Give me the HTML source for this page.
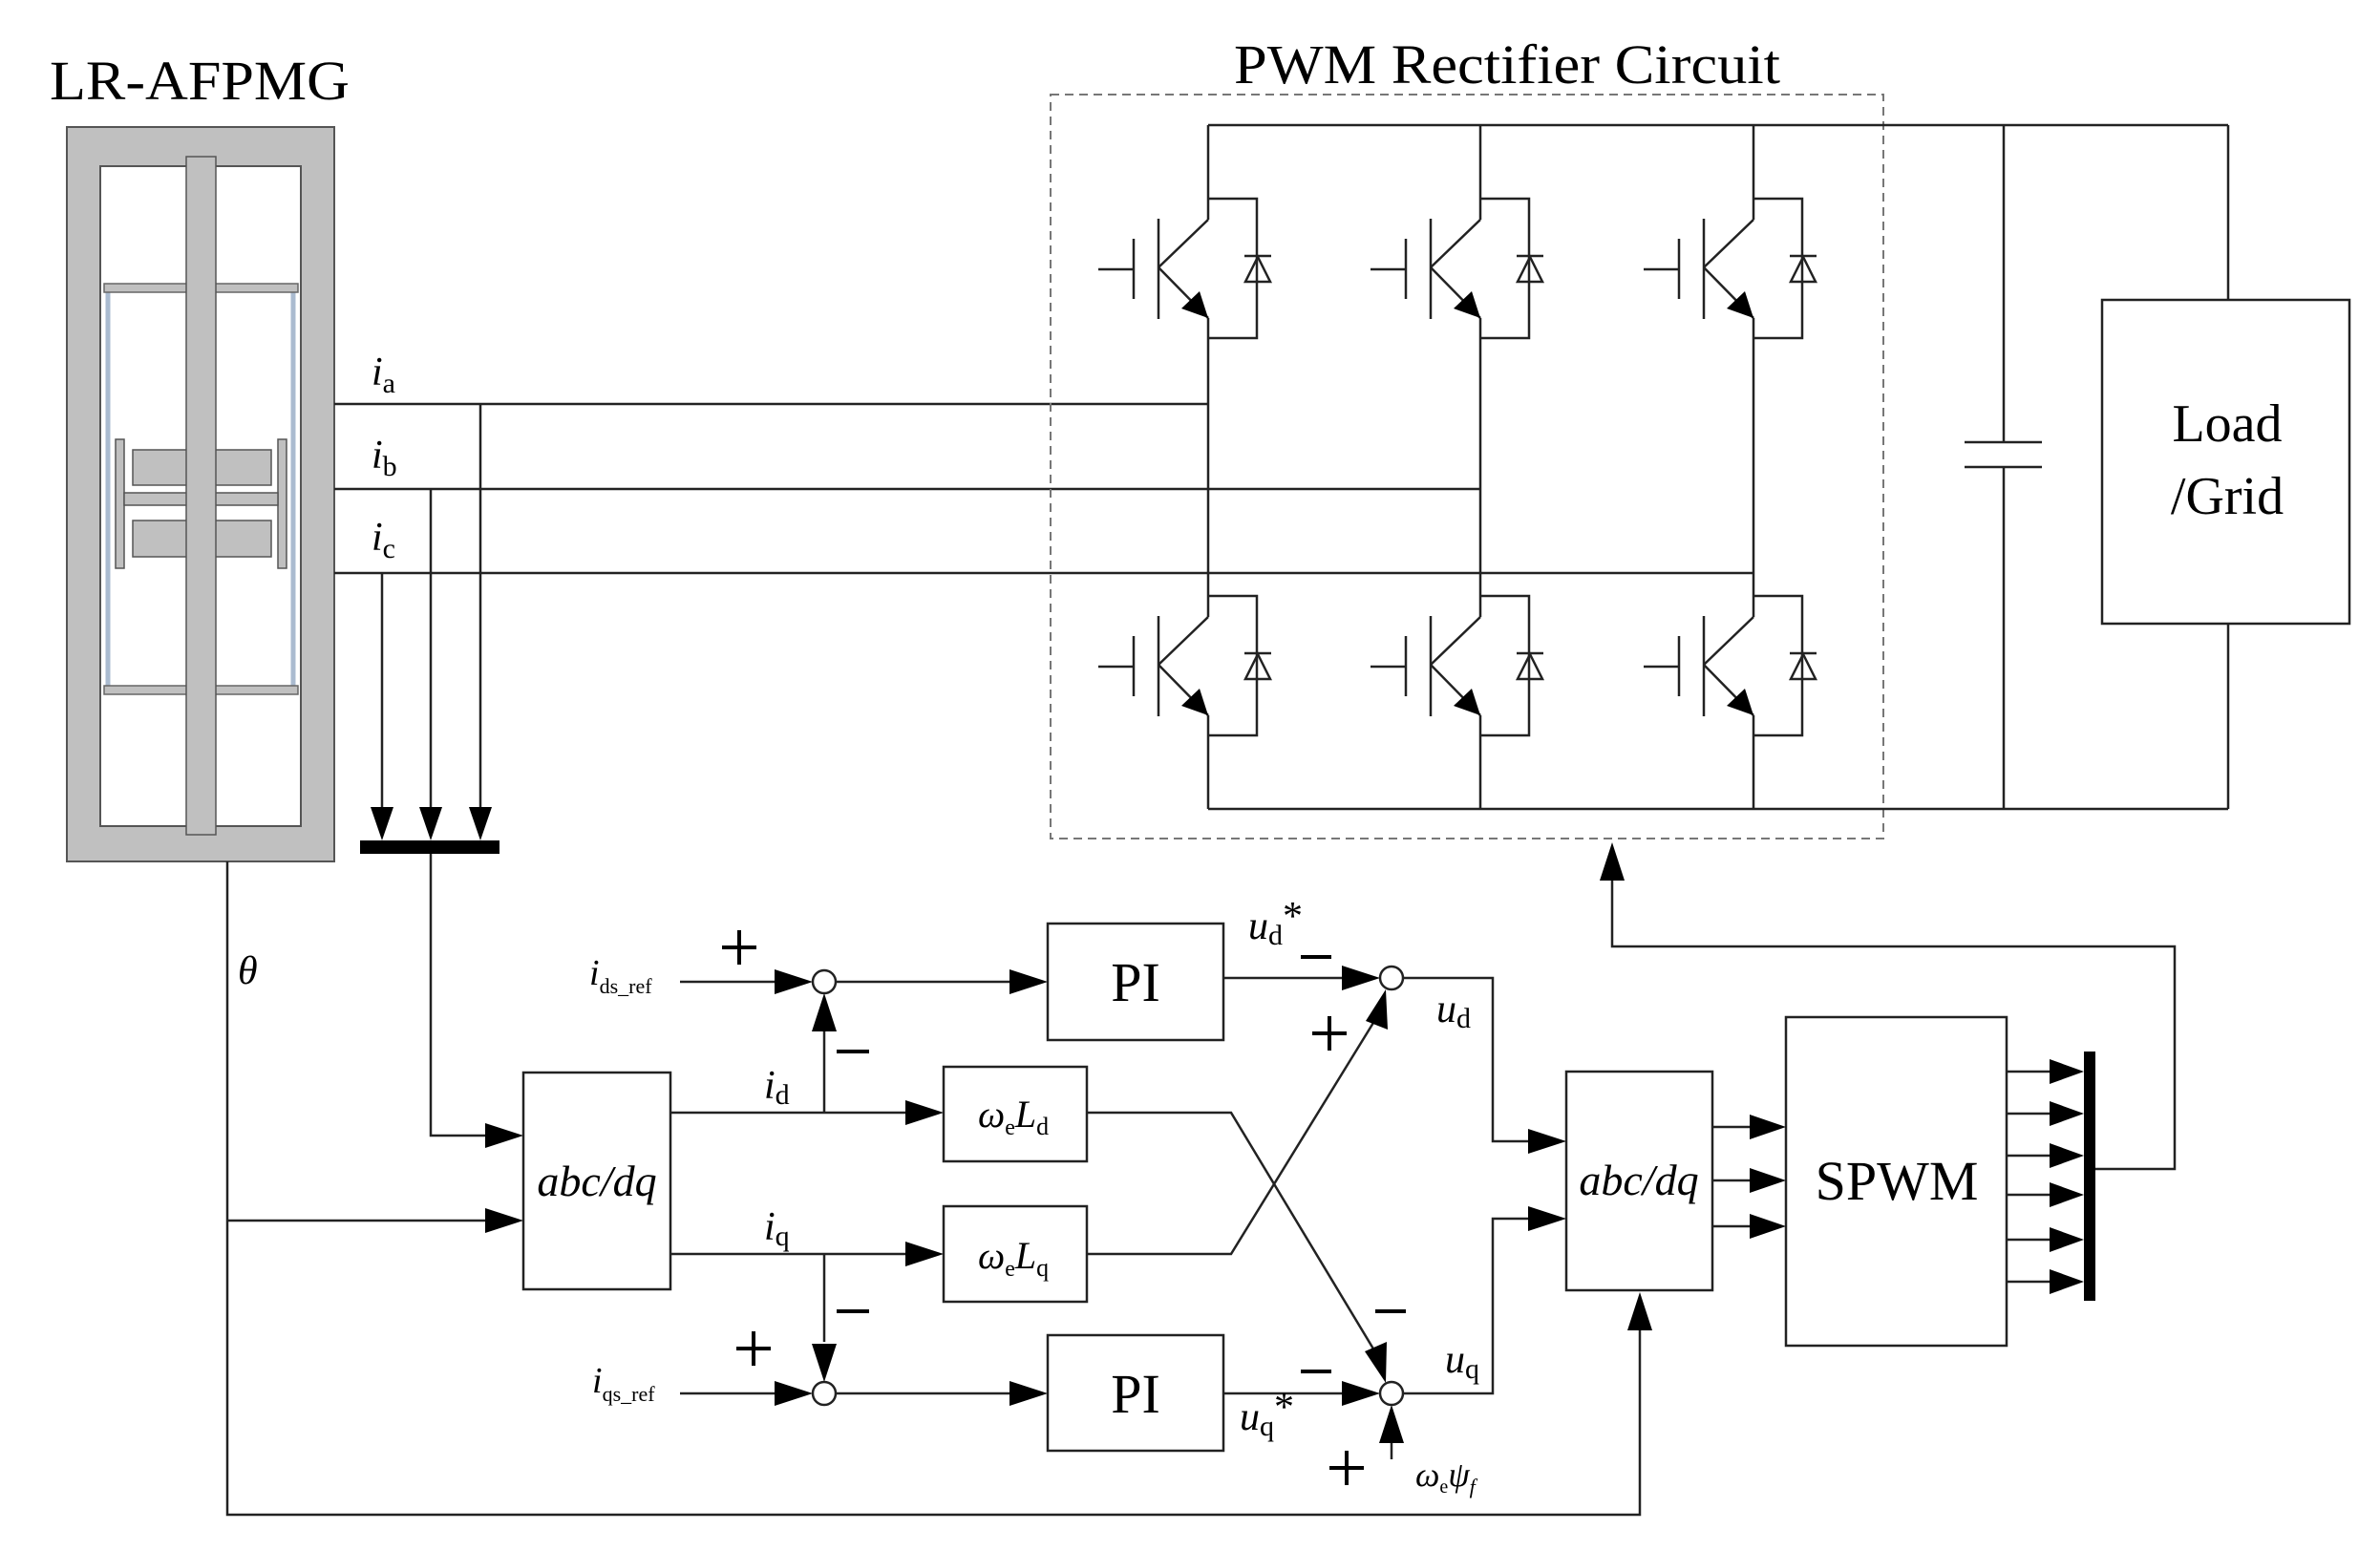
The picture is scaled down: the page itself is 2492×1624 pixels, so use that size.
<!DOCTYPE html>
<html><head><meta charset="utf-8"><style>
html,body{margin:0;padding:0;background:#fff}
svg{display:block}
text{font-family:"Liberation Serif",serif;fill:#000}
</style></head><body>
<svg width="2492" height="1624" viewBox="0 0 2492 1624" xmlns="http://www.w3.org/2000/svg">
<defs>
<g id="sw" stroke="#222" stroke-width="2.5" fill="none">
<polyline points="0,0 51,0 51,146 0,146"/>
<polygon points="39,87 65,87 52,61"/>
<line x1="38" y1="60" x2="66" y2="60"/>
<line x1="0" y1="22" x2="-52" y2="72"/>
<line x1="-52" y1="72" x2="0" y2="125"/>
<polygon points="0,125 -28,115 -9,97" fill="#000" stroke="none"/>
<line x1="-52" y1="21" x2="-52" y2="126"/>
<line x1="-78" y1="42" x2="-78" y2="105"/>
<line x1="-115" y1="74" x2="-78" y2="74"/>
</g>
</defs>

<text x="52" y="104" font-size="58" textLength="314" lengthAdjust="spacingAndGlyphs">LR-AFPMG</text>
<text x="1292" y="87" font-size="58" textLength="572" lengthAdjust="spacingAndGlyphs">PWM Rectifier Circuit</text>

<rect x="70" y="133" width="280" height="769" fill="#c0c0c0" stroke="#555" stroke-width="2"/>
<rect x="105" y="174" width="210" height="691" fill="#fff" stroke="#555" stroke-width="2"/>
<line x1="113" y1="305" x2="113" y2="718" stroke="#aabbd0" stroke-width="5"/>
<line x1="307" y1="305" x2="307" y2="718" stroke="#aabbd0" stroke-width="5"/>
<rect x="109" y="297" width="203" height="9" fill="#c0c0c0" stroke="#666" stroke-width="1.5"/>
<rect x="109" y="718" width="203" height="9" fill="#c0c0c0" stroke="#666" stroke-width="1.5"/>
<rect x="121" y="460" width="9" height="135" fill="#c0c0c0" stroke="#555" stroke-width="1.5"/>
<rect x="291" y="460" width="9" height="135" fill="#c0c0c0" stroke="#555" stroke-width="1.5"/>
<rect x="139" y="471" width="145" height="37" fill="#c0c0c0" stroke="#555" stroke-width="1.5"/>
<rect x="139" y="545" width="145" height="38" fill="#c0c0c0" stroke="#555" stroke-width="1.5"/>
<rect x="130" y="516" width="161" height="13" fill="#c0c0c0" stroke="#555" stroke-width="1.5"/>
<rect x="195" y="164" width="31" height="710" fill="#c0c0c0" stroke="#555" stroke-width="1.5"/>

<g stroke="#222" stroke-width="2.5" fill="none">
<line x1="350" y1="423" x2="1265" y2="423"/>
<line x1="350" y1="512" x2="1550" y2="512"/>
<line x1="350" y1="600" x2="1836" y2="600"/>
<line x1="503" y1="423" x2="503" y2="845"/>
<line x1="451" y1="512" x2="451" y2="845"/>
<line x1="400" y1="600" x2="400" y2="845"/>
<rect x="1100" y="99" width="872" height="779" stroke="#777" stroke-width="2" stroke-dasharray="9,6"/>
<line x1="1265" y1="131" x2="2333" y2="131"/>
<line x1="1265" y1="847" x2="2333" y2="847"/>
<path d="M1265 131V230M1265 333V646M1265 749V847M1550 131V230M1550 333V646M1550 749V847M1836 131V230M1836 333V646M1836 749V847"/>
<path d="M2098 131V463M2098 489V847M2057 463H2138M2057 489H2138"/>
<path d="M2333 131V314M2333 653V847"/>
<rect x="2201" y="314" width="259" height="339"/>
</g>
<use href="#sw" x="1265" y="208"/>
<use href="#sw" x="1550" y="208"/>
<use href="#sw" x="1836" y="208"/>
<use href="#sw" x="1265" y="624"/>
<use href="#sw" x="1550" y="624"/>
<use href="#sw" x="1836" y="624"/>
<text x="2332" y="462" font-size="56" text-anchor="middle">Load</text>
<text x="2332" y="538" font-size="56" text-anchor="middle">/Grid</text>

<text x="389" y="403" font-size="42" font-style="italic">i<tspan font-size="30" font-style="normal" dy="8">a</tspan></text>
<text x="389" y="490" font-size="42" font-style="italic">i<tspan font-size="30" font-style="normal" dy="8">b</tspan></text>
<text x="389" y="576" font-size="42" font-style="italic">i<tspan font-size="30" font-style="normal" dy="8">c</tspan></text>

<g fill="#000">
<polygon points="388,845 412,845 400,880"/>
<polygon points="439,845 463,845 451,880"/>
<polygon points="491,845 515,845 503,880"/>
<rect x="377" y="880" width="146" height="14"/>
</g>

<g stroke="#222" stroke-width="2.5" fill="none">
<polyline points="451,894 451,1189 510,1189"/>
<polyline points="238,902 238,1586 1717,1586 1717,1393"/>
<line x1="238" y1="1278" x2="510" y2="1278"/>
<rect x="548" y="1123" width="154" height="227"/>
<rect x="988" y="1117" width="150" height="99"/>
<rect x="988" y="1263" width="150" height="100"/>
<rect x="1097" y="967" width="184" height="122"/>
<rect x="1097" y="1398" width="184" height="121"/>
<rect x="1640" y="1122" width="153" height="229"/>
<rect x="1870" y="1065" width="231" height="344"/>
<line x1="702" y1="1165" x2="950" y2="1165"/>
<line x1="702" y1="1313" x2="950" y2="1313"/>
<line x1="863" y1="1165" x2="863" y2="1080"/>
<line x1="863" y1="1313" x2="863" y2="1405"/>
<line x1="712" y1="1028" x2="812" y2="1028"/>
<line x1="875" y1="1028" x2="1057" y2="1028"/>
<line x1="1281" y1="1024" x2="1405" y2="1024"/>
<line x1="712" y1="1459" x2="812" y2="1459"/>
<line x1="875" y1="1459" x2="1057" y2="1459"/>
<line x1="1281" y1="1459" x2="1405" y2="1459"/>
<polyline points="1138,1165 1289,1165 1442,1419"/>
<polyline points="1138,1313 1289,1313 1441,1066"/>
<line x1="1457" y1="1528" x2="1457" y2="1510"/>
<polyline points="1469,1024 1563,1024 1563,1195 1600,1195"/>
<polyline points="1469,1459 1563,1459 1563,1276 1600,1276"/>
<path d="M1793 1180H1832M1793 1236H1832M1793 1284H1832"/>
<path d="M2101 1122H2146M2101 1166H2146M2101 1210H2146M2101 1251H2146M2101 1298H2146M2101 1342H2146"/>
<polyline points="2194,1224 2277,1224 2277,991 1688,991 1688,921"/>
</g>
<g fill="#fff" stroke="#222" stroke-width="2.5">
<circle cx="863" cy="1028" r="12"/>
<circle cx="1457" cy="1024" r="12"/>
<circle cx="863" cy="1459" r="12"/>
<circle cx="1457" cy="1459" r="12"/>
</g>
<g fill="#000">
<polygon points="548,1189 508,1176 508,1202"/>
<polygon points="548,1278 508,1265 508,1291"/>
<polygon points="988,1165 948,1152 948,1178"/>
<polygon points="988,1313 948,1300 948,1326"/>
<polygon points="851,1028 811,1015 811,1041"/>
<polygon points="1097,1028 1057,1015 1057,1041"/>
<polygon points="1445,1024 1405,1011 1405,1037"/>
<polygon points="851,1459 811,1446 811,1472"/>
<polygon points="1097,1459 1057,1446 1057,1472"/>
<polygon points="1445,1459 1405,1446 1405,1472"/>
<polygon points="863,1040 850,1080 876,1080"/>
<polygon points="863,1447 850,1407 876,1407"/>
<polygon points="1457,1471 1444,1511 1470,1511"/>
<polygon points="1451,1448 1429,1415 1452,1405"/>
<polygon points="1451,1036 1430,1069 1453,1078"/>
<polygon points="1640,1195 1600,1182 1600,1208"/>
<polygon points="1640,1276 1600,1263 1600,1289"/>
<polygon points="1717,1353 1704,1393 1730,1393"/>
<polygon points="1688,882 1675,922 1701,922"/>
<polygon points="1870,1180 1832,1167 1832,1193"/>
<polygon points="1870,1236 1832,1223 1832,1249"/>
<polygon points="1870,1284 1832,1271 1832,1297"/>
<polygon points="2182,1122 2146,1109 2146,1135"/>
<polygon points="2182,1166 2146,1153 2146,1179"/>
<polygon points="2182,1210 2146,1197 2146,1223"/>
<polygon points="2182,1251 2146,1238 2146,1264"/>
<polygon points="2182,1298 2146,1285 2146,1311"/>
<polygon points="2182,1342 2146,1329 2146,1355"/>
<rect x="2182" y="1101" width="12" height="261"/>
</g>
<g stroke="#000" stroke-width="4">
<path d="M756 992H792M774 974V1010"/>
<path d="M771 1412H807M789 1394V1430"/>
<path d="M1374 1082H1410M1392 1064V1100"/>
<path d="M1392 1537H1428M1410 1519V1555"/>
<path d="M876 1101H910"/>
<path d="M876 1373H910"/>
<path d="M1362 1002H1394"/>
<path d="M1440 1373H1472"/>
<path d="M1362 1436H1394"/>
</g>
<text x="625" y="1252" font-size="46" font-style="italic" text-anchor="middle">abc/dq</text>
<text x="1716" y="1251" font-size="46" font-style="italic" text-anchor="middle">abc/dq</text>
<text x="1189" y="1048" font-size="58" text-anchor="middle">PI</text>
<text x="1189" y="1479" font-size="58" text-anchor="middle">PI</text>
<text x="1986" y="1256" font-size="58" text-anchor="middle">SPWM</text>
<text x="1024" y="1180" font-size="40" font-style="italic">ω<tspan font-size="24" font-style="normal" dy="8">e</tspan><tspan dy="-8">L</tspan><tspan font-size="26" font-style="normal" dy="8">d</tspan></text>
<text x="1024" y="1328" font-size="40" font-style="italic">ω<tspan font-size="24" font-style="normal" dy="8">e</tspan><tspan dy="-8">L</tspan><tspan font-size="26" font-style="normal" dy="8">q</tspan></text>
<text x="617" y="1031" font-size="38" font-style="italic">i<tspan font-size="22" font-style="normal" dy="9">ds_ref</tspan></text>
<text x="620" y="1458" font-size="38" font-style="italic">i<tspan font-size="22" font-style="normal" dy="9">qs_ref</tspan></text>
<text x="800" y="1150" font-size="42" font-style="italic">i<tspan font-size="30" font-style="normal" dy="6">d</tspan></text>
<text x="800" y="1298" font-size="42" font-style="italic">i<tspan font-size="30" font-style="normal" dy="6">q</tspan></text>
<text x="1307" y="983" font-size="42" font-style="italic">u<tspan font-size="30" font-style="normal" dy="6">d</tspan><tspan font-size="42" font-style="normal" dy="-16">*</tspan></text>
<text x="1298" y="1497" font-size="42" font-style="italic">u<tspan font-size="30" font-style="normal" dy="6">q</tspan><tspan font-size="42" font-style="normal" dy="-16">*</tspan></text>
<text x="1504" y="1070" font-size="42" font-style="italic">u<tspan font-size="30" font-style="normal" dy="6">d</tspan></text>
<text x="1513" y="1437" font-size="42" font-style="italic">u<tspan font-size="30" font-style="normal" dy="6">q</tspan></text>
<text x="1482" y="1556" font-size="36" font-style="italic">ω<tspan font-size="20" font-style="normal" dy="7">e</tspan><tspan dy="-7">ψ</tspan><tspan font-size="22" dy="8">f</tspan></text>
<text x="249" y="1030" font-size="42" font-style="italic">θ</text>
</svg>
</body></html>
